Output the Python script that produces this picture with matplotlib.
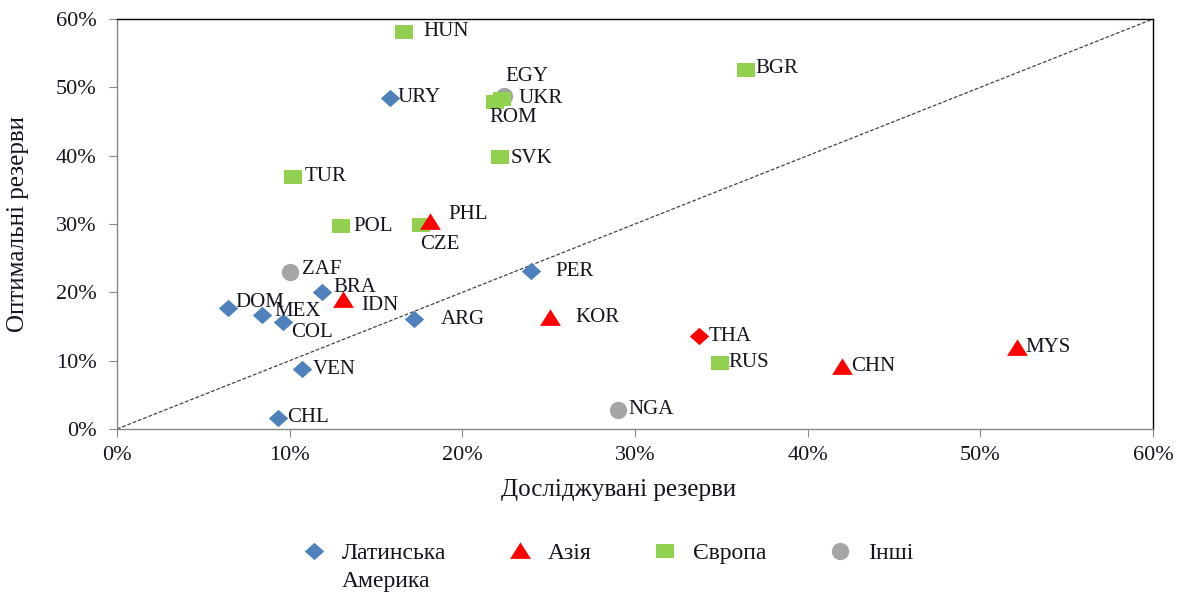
import matplotlib
matplotlib.use("Agg")
import matplotlib.pyplot as plt
from matplotlib.ticker import FuncFormatter, MultipleLocator

plt.rcParams['font.family'] = ['Liberation Serif', 'DejaVu Serif']

# ---- data (percent) ----
latam_names = ["URY", "DOM", "MEX", "COL", "BRA", "ARG", "PER", "VEN", "CHL"]
latam_x = [15.8, 6.4, 8.4, 9.6, 11.9, 17.2, 24.0, 10.7, 9.3]
latam_y = [48.5, 17.7, 16.7, 15.7, 20.1, 16.1, 23.1, 8.8, 1.6]

asia_names = ["PHL", "IDN", "KOR", "THA", "CHN", "MYS"]
asia_x = [18.1, 13.1, 25.1, 33.7, 42.0, 52.1]
asia_y = [30.3, 18.9, 16.3, 13.6, 9.1, 11.9]

europe_names = ["HUN", "BGR", "UKR", "ROM", "SVK", "TUR", "POL", "CZE", "RUS"]
europe_x = [16.6, 36.4, 22.3, 21.9, 22.2, 10.2, 13.0, 17.6, 34.9]
europe_y = [58.1, 52.6, 48.3, 47.9, 39.8, 36.9, 29.7, 29.9, 9.7]

other_names = ["EGY", "ZAF", "NGA"]
other_x = [22.4, 10.0, 29.0]
other_y = [48.8, 23.0, 2.8]

series_labels = ["Латинська\nАмерика", "Азія", "Європа", "Інші"]

# ---- styles / label placement (pixel offsets) ----
label_offsets = {
    "URY": (8, 0, "left"), "DOM": (8, 6, "left"), "MEX": (12, 3, "left"),
    "COL": (8, -11, "left"), "BRA": (11, 4, "left"), "ARG": (27, -1, "left"),
    "PER": (24, 0, "left"), "VEN": (11, -1, "left"), "CHL": (10, 1, "left"),
    "PHL": (19, 7, "left"), "IDN": (18, -6, "left"), "KOR": (25, 0, "left"),
    "THA": (10, 0, "left"), "CHN": (9, 0, "left"), "MYS": (9, 0, "left"),
    "HUN": (20, 0, "left"), "BGR": (10, 1, "left"), "UKR": (16, 0, "left"),
    "ROM": (18, -16, "center"), "SVK": (10, -1, "left"), "TUR": (12, 0, "left"),
    "POL": (12, 0, "left"), "CZE": (19, -20, "center"), "RUS": (9, 0, "left"),
    "EGY": (23, 19, "center"), "ZAF": (12, 2, "left"), "NGA": (11, 0, "left"),
}

DIAMOND = [(-1.12, 0), (0, -1), (1.12, 0), (0, 1), (-1.12, 0)]
TRIANGLE = [(-1.2, -0.85), (1.2, -0.85), (0, 1.05), (-1.2, -0.85)]
RECT = [(-1.35, -1), (1.35, -1), (1.35, 1), (-1.35, 1), (-1.35, -1)]
TEXT_COLOR = "#14141f"

fig = plt.figure(figsize=(11.87, 5.95), dpi=100)
ax = fig.add_axes([117/1187, 1-429/595, (1153-117)/1187, (429-19)/595])

ax.plot([0, 60], [0, 60], linestyle=(0, (3, 1.5)), color="#444444", lw=0.9, zorder=1)

blue, red, green, grey = "#4F81BD", "#FF0000", "#92D050", "#A5A5A5"
ax.plot(latam_x, latam_y, linestyle="none", marker=DIAMOND, ms=14, color=blue,
        mew=0, label=series_labels[0], zorder=3)
asia_marker = ["t", "t", "t", "d", "t", "t"]
first = True
for x, y, m in zip(asia_x, asia_y, asia_marker):
    ax.plot([x], [y], linestyle="none", marker=(TRIANGLE if m == "t" else DIAMOND),
            ms=(15 if m == "t" else 14), color=red, mew=0,
            label=(series_labels[1] if first else None), zorder=4)
    first = False
ax.plot(europe_x, europe_y, linestyle="none", marker=RECT, ms=13, color=green,
        mew=0, label=series_labels[2], zorder=3)
ax.plot(other_x, other_y, linestyle="none", marker="o", ms=12.5, color=grey,
        mew=0, label=series_labels[3], zorder=2)

for names, xs, ys in [(latam_names, latam_x, latam_y), (asia_names, asia_x, asia_y),
                      (europe_names, europe_x, europe_y), (other_names, other_x, other_y)]:
    for n, x, y in zip(names, xs, ys):
        dx, dy, ha = label_offsets[n]
        ax.annotate(n, (x, y), xytext=(dx, dy), textcoords="offset pixels",
                    ha=ha, va="center", fontsize=15, color=TEXT_COLOR, zorder=5)

ax.set_xlim(0, 60)
ax.set_ylim(0, 60)
ax.xaxis.set_major_locator(MultipleLocator(10))
ax.yaxis.set_major_locator(MultipleLocator(10))
fmt = FuncFormatter(lambda v, p: f"{v:.0f}%")
ax.xaxis.set_major_formatter(fmt)
ax.yaxis.set_major_formatter(fmt)
ax.tick_params(direction="out", length=5.5, color="#888888", labelsize=16,
               labelcolor=TEXT_COLOR)
ax.tick_params(axis="y", pad=9)
ax.tick_params(axis="x", pad=7)

for s in ["left", "bottom"]:
    ax.spines[s].set_color("#888888")
for s in ["top", "right"]:
    ax.spines[s].set_color("black")
for s in ax.spines.values():
    s.set_linewidth(1.0)

ax.set_xlabel("Досліджувані резерви", fontsize=18, color=TEXT_COLOR, va="center")
ax.xaxis.set_label_coords((619-117)/1036, (429-490)/410)
ax.set_ylabel("Оптимальні резерви", fontsize=18, color=TEXT_COLOR, va="center")
ax.yaxis.set_label_coords((18-117)/1036, 0.5)

# legend: first line of the multi-line label in the legend, the rest placed under it
handles, labels = ax.get_legend_handles_labels()
first_lines = [l.split("\n")[0] for l in labels]
leg = fig.legend(handles, first_lines, loc="center", bbox_to_anchor=(0.512, 1-553/595),
                 ncol=4, frameon=False, fontsize=17, handletextpad=0.7,
                 columnspacing=2.6, handlelength=1.0, labelcolor=TEXT_COLOR)
fig.canvas.draw()
r = fig.canvas.get_renderer()
for txt, full in zip(leg.get_texts(), labels):
    rest = full.split("\n")[1:]
    if rest:
        bb = txt.get_window_extent(r)
        fig.text(bb.x0 / fig.bbox.width, (bb.y0 - 18) / fig.bbox.height,
                 "\n".join(rest), fontsize=17, color=TEXT_COLOR, ha="left", va="center")

fig.savefig("out.png", dpi=100)
